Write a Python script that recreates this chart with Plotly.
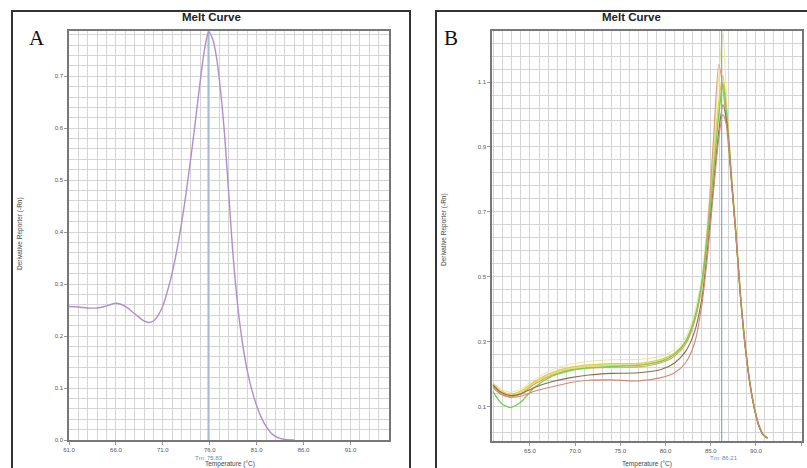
import plotly.graph_objects as go

W, H = 807, 468

# ---------------- Panel A data ----------------
temp_a = [61, 62, 63, 64, 65, 66, 67, 68, 69.0, 69.5, 70.0, 70.5, 71.0, 71.5, 72.0, 72.5,
          73.0, 73.5, 74.0, 74.5, 75.0, 75.5, 75.9, 76.3, 76.7, 77.0, 77.5, 78.0, 78.5,
          79.0, 79.5, 80.0, 80.5, 81.0, 81.5, 82.0, 82.5, 83.0, 83.5, 84.0, 85.0]
deriv_a = [0.257, 0.256, 0.254, 0.254, 0.258, 0.263, 0.257, 0.243, 0.229, 0.226, 0.229,
           0.240, 0.258, 0.287, 0.322, 0.366, 0.418, 0.478, 0.545, 0.618, 0.693, 0.757,
           0.785, 0.772, 0.738, 0.697, 0.605, 0.480, 0.352, 0.255, 0.185, 0.133, 0.095,
           0.066, 0.043, 0.026, 0.014, 0.007, 0.003, 0.001, 0.0]
tm_a = 75.83
xticks_a = [61, 66, 71, 76, 81, 86, 91]
yticks_a = [0.0, 0.1, 0.2, 0.3, 0.4, 0.5, 0.6, 0.7]

# ---------------- Panel B data ----------------
temp_b = [60.9, 61.8, 62.8, 64.0, 65.5, 67.5, 69.5, 71.5, 74.0, 77.0, 79.5, 81.0, 82.2,
          83.2, 84.0, 84.7, 85.3, 85.9, 86.35, 86.8, 87.3, 87.8, 88.3, 88.8, 89.3, 89.8,
          90.3, 90.8, 91.3]
well_light_yellow = [0.175, 0.155, 0.145, 0.155, 0.185, 0.215, 0.232, 0.240, 0.245, 0.246,
                     0.256, 0.276, 0.312, 0.388, 0.500, 0.690, 0.900, 1.120, 1.250, 1.030,
                     0.815, 0.640, 0.450, 0.300, 0.185, 0.105, 0.048, 0.016, 0.004]
well_yellow = [0.171, 0.149, 0.139, 0.149, 0.178, 0.206, 0.222, 0.229, 0.233, 0.234,
               0.246, 0.266, 0.302, 0.372, 0.475, 0.655, 0.855, 1.040, 1.120, 1.000,
               0.810, 0.635, 0.445, 0.295, 0.182, 0.102, 0.046, 0.015, 0.004]
well_yellow2 = [0.168, 0.146, 0.136, 0.146, 0.174, 0.202, 0.218, 0.225, 0.229, 0.230,
                0.242, 0.262, 0.298, 0.366, 0.468, 0.645, 0.845, 1.020, 1.090, 0.985,
                0.805, 0.628, 0.440, 0.292, 0.180, 0.100, 0.045, 0.015, 0.004]
well_orange = [0.165, 0.141, 0.131, 0.140, 0.170, 0.198, 0.214, 0.220, 0.222, 0.223,
               0.236, 0.256, 0.292, 0.362, 0.472, 0.665, 0.920, 1.155, 1.080, 0.950,
               0.790, 0.620, 0.435, 0.288, 0.178, 0.098, 0.044, 0.014, 0.004]
well_green = [0.148, 0.112, 0.098, 0.115, 0.160, 0.195, 0.212, 0.220, 0.225, 0.228,
              0.240, 0.262, 0.300, 0.370, 0.480, 0.640, 0.820, 1.000, 1.095, 0.990,
              0.800, 0.625, 0.438, 0.290, 0.179, 0.099, 0.044, 0.014, 0.004]
well_brown = [0.168, 0.145, 0.135, 0.140, 0.160, 0.178, 0.190, 0.198, 0.203, 0.205,
              0.215, 0.235, 0.270, 0.330, 0.430, 0.600, 0.780, 0.950, 1.030, 0.970,
              0.800, 0.628, 0.440, 0.292, 0.180, 0.100, 0.045, 0.015, 0.004]
well_red = [0.160, 0.138, 0.130, 0.133, 0.148, 0.162, 0.175, 0.182, 0.183, 0.180,
            0.190, 0.205, 0.235, 0.295, 0.410, 0.580, 0.760, 0.930, 1.000, 0.960,
            0.795, 0.625, 0.438, 0.290, 0.179, 0.099, 0.044, 0.014, 0.004]
tm_b = 86.21
xticks_b = [65, 70, 75, 80, 85, 90, 95]
yticks_b = [0.1, 0.3, 0.5, 0.7, 0.9, 1.1]

series_b = [
    ("light yellow", well_light_yellow, "#ece79a", 1.0),
    ("yellow", well_yellow, "#d9d24a", 1.4),
    ("yellow 2", well_yellow2, "#e6dc6a", 1.4),
    ("orange", well_orange, "#e0a070", 1.2),
    ("green", well_green, "#72cf5a", 1.3),
    ("brown", well_brown, "#8c6c4c", 1.1),
    ("red", well_red, "#d08878", 1.1),
]

fig = go.Figure()

fig.add_trace(go.Scatter(x=temp_a, y=deriv_a, mode="lines",
                         line=dict(color="#b48ccc", width=1.4, shape="spline", smoothing=1.0),
                         xaxis="x", yaxis="y", showlegend=False))
for name, ys, col, lw in series_b:
    fig.add_trace(go.Scatter(x=temp_b, y=ys, mode="lines", name=name,
                             line=dict(color=col, width=lw, shape="spline", smoothing=0.7),
                             xaxis="x2", yaxis="y2", showlegend=False))

def px_x(v):
    return v / W

def px_y(v):
    return 1 - v / H

grid = "#d4d4d4"
tickfont = dict(family="Liberation Sans, Arial", size=6, color="#555")
axis_common = dict(showline=True, mirror=True, linecolor="#777", linewidth=1.5,
                   gridcolor=grid, gridwidth=1, zeroline=False, ticks="outside",
                   ticklen=3, tickcolor="#999", tickfont=tickfont, fixedrange=True,
                   automargin=False)

fig.update_layout(
    width=W, height=H, margin=dict(l=0, r=0, t=0, b=0, pad=0),
    paper_bgcolor="white", plot_bgcolor="white", showlegend=False,
    xaxis=dict(domain=[px_x(69), px_x(389)], range=[61, 95.1], anchor="y",
               tickvals=xticks_a, tickformat=".1f",
               minor=dict(dtick=1, tick0=61, showgrid=True, gridcolor=grid, ticks=""),
               **axis_common),
    yaxis=dict(domain=[px_y(440), px_y(31)], range=[0, 0.787], anchor="x",
               tickvals=yticks_a, tickformat=".1f",
               minor=dict(dtick=0.02, tick0=0, showgrid=True, gridcolor=grid, ticks=""),
               **axis_common),
    xaxis2=dict(domain=[px_x(492), px_x(802)], range=[60.8, 95.1], anchor="y2",
                tickvals=xticks_b, tickformat=".1f",
                minor=dict(dtick=1, tick0=61, showgrid=True, gridcolor=grid, ticks=""),
                **axis_common),
    yaxis2=dict(domain=[px_y(441), px_y(31)], range=[-0.005, 1.257], anchor="x2",
                tickvals=yticks_b, tickformat=".1f",
                minor=dict(dtick=0.04, tick0=0.1, showgrid=True, gridcolor=grid, ticks=""),
                **axis_common),
)

# Tm lines
fig.add_shape(type="line", xref="x", yref="y", x0=tm_a, x1=tm_a, y0=0, y1=0.787,
              line=dict(color="#88a8cc", width=1.2), layer="above")
fig.add_shape(type="line", xref="x2", yref="y2", x0=tm_b, x1=tm_b, y0=-0.005, y1=1.257,
              line=dict(color="#88a8cc", width=1.2), layer="above")

# outer frames
fig.add_shape(type="rect", xref="paper", yref="paper", x0=px_x(12), x1=px_x(410),
              y0=px_y(470), y1=px_y(11), line=dict(color="#333", width=2))
fig.add_shape(type="rect", xref="paper", yref="paper", x0=px_x(436), x1=px_x(812),
              y0=px_y(470), y1=px_y(11), line=dict(color="#333", width=2))

ann = []
def add_text(x, y, text, size, color="#333", family="Liberation Sans, Arial", angle=0):
    ann.append(dict(x=px_x(x), y=px_y(y), xref="paper", yref="paper", text=text,
                    showarrow=False, xanchor="center", yanchor="middle", textangle=angle,
                    font=dict(family=family, size=size, color=color)))

add_text(212, 17, "<b>Melt Curve</b>", 11.5, "#222")
add_text(631, 17, "<b>Melt Curve</b>", 11.5, "#222")
add_text(37, 38, "A", 21, "#111", "Liberation Serif, Times New Roman")
add_text(451, 38, "B", 21, "#111", "Liberation Serif, Times New Roman")
add_text(20, 234, "Derivative Reporter (-Rn)", 6.5, "#444", angle=-90)
add_text(444, 230, "Derivative Reporter (-Rn)", 6.5, "#444", angle=-90)
add_text(230, 463.5, "Temperature (°C)", 6.5, "#444")
add_text(647, 463.5, "Temperature (°C)", 6.5, "#444")
add_text(209, 457.5, f"Tm: {tm_a:.2f}", 6, "#5a8cc8")
add_text(724, 457.5, f"Tm: {tm_b:.2f}", 6, "#5a8cc8")
fig.update_layout(annotations=ann)

fig.write_html("out.html", config={"displayModeBar": False},
               post_script="document.body.style.margin='0';document.body.style.overflow='hidden';")
